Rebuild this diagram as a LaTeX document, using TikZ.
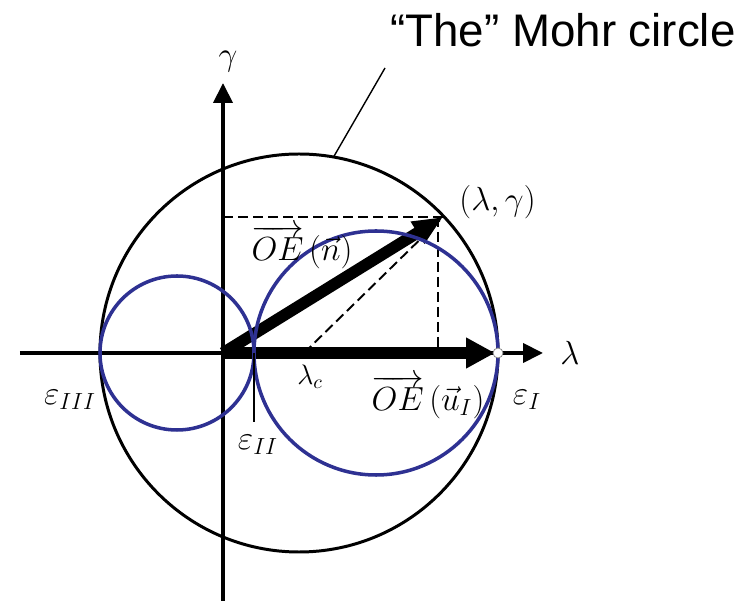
\RequirePackage{fix-cm}
\documentclass[tikz,border=0pt]{standalone}
\usepackage{amsmath,amssymb}
\usepackage{fontspec}
\newfontfamily\arialf{Liberation Sans}
\usetikzlibrary{arrows.meta,positioning,calc}

\definecolor{mohrblue}{RGB}{46,49,146}

\begin{document}
\begin{tikzpicture}[
    axis/.style={line width=2.3pt, -{Triangle[length=0.4cm, width=0.38cm]}},
    vecarr/.style={line width=6.6pt, -{Triangle[length=0.58cm, width=0.58cm]}},
    dsh/.style={line width=1.1pt, dash pattern=on 0.2cm off 0.1cm},
    bcirc/.style={draw, circle, line width=1.7pt, inner sep=0pt, outer sep=0pt},
    blu/.style={draw=mohrblue, line width=2pt},
    lbl/.style={font=\fontsize{19}{22}\selectfont, inner sep=1pt}
]
\useasboundingbox (-4.46,-4.96) rectangle (10.30,7.06);

\coordinate (O) at (0,0);
\coordinate (P) at (4.40,2.72);
\coordinate (Pv) at (4.30,2.72);
\coordinate (lc) at (1.62,0);
\coordinate (e3) at (-2.46,0);
\coordinate (e2) at (0.62,0);
\coordinate (e1) at (5.50,0);
\coordinate (ue) at (5.44,0);

% outer circle
\node[bcirc, minimum size=7.96cm] (mohr) at (1.52,0) {};

% axes
\coordinate (xl) at (-4.06,0);
\coordinate (xr) at (6.40,0);
\coordinate (yb) at (0,-4.96);
\coordinate (yt) at (0,5.40);
\draw[axis] (xl) -- (xr);
\draw[axis] (yb) -- (yt);

% projections
\draw[dsh] (O |- P) -- (P);
\draw[dsh] (Pv) -- (Pv |- O);
\draw[dsh] (lc) -- (P);

% vectors
\draw[vecarr, -{Triangle[length=0.6cm, width=0.48cm]}] (O) -- (P);
\draw[vecarr] (O) -- (ue);

% principal circles
\draw[blu] ($(e3)!0.5!(e2)$) circle (1.54);
\draw[blu] ($(e2)!0.5!(e1)$) circle (2.44);

\coordinate (e2t) at (0.62,-1.38);
\draw[line width=0.8pt] (e2) -- (e2t);
\node[circle, draw=black!50, fill=white, line width=0.4pt, inner sep=0pt, minimum size=0.2cm] (m1) at (e1) {};

% labels
\node[lbl] (gam) at (0.1,5.82) {$\gamma$};
\node[lbl] (lam) at (6.94,0) {$\lambda$};
\node[lbl] (pt) at (5.49,3.02) {$(\lambda,\gamma)$};
\node[lbl] (oen) at (1.58,2.12) {$\overrightarrow{OE}\,(\vec{n})$};
\node[lbl] (oeu) at (4.10,-0.88) {$\overrightarrow{OE}\,(\vec{u}_I)$};
\node[lbl, font=\fontsize{16}{18}\selectfont] (lcl) at (1.74,-0.48) {$\lambda_c$};
\node[lbl] (e1l) at (6.08,-0.94) {$\varepsilon_I$};
\node[lbl] (e2l) at (0.70,-1.84) {$\varepsilon_{II}$};
\node[lbl] (e3l) at (-3.06,-0.94) {$\varepsilon_{III}$};

% caption
\node[font=\arialf\fontsize{26}{30}\selectfont, anchor=base west, inner sep=0pt] (ttl) at (3.34,6.12) {“The” Mohr circle};
\coordinate (tp) at (3.24,5.70);
\draw[line width=0.8pt] (mohr.80) -- (tp);
\end{tikzpicture}
\end{document}
